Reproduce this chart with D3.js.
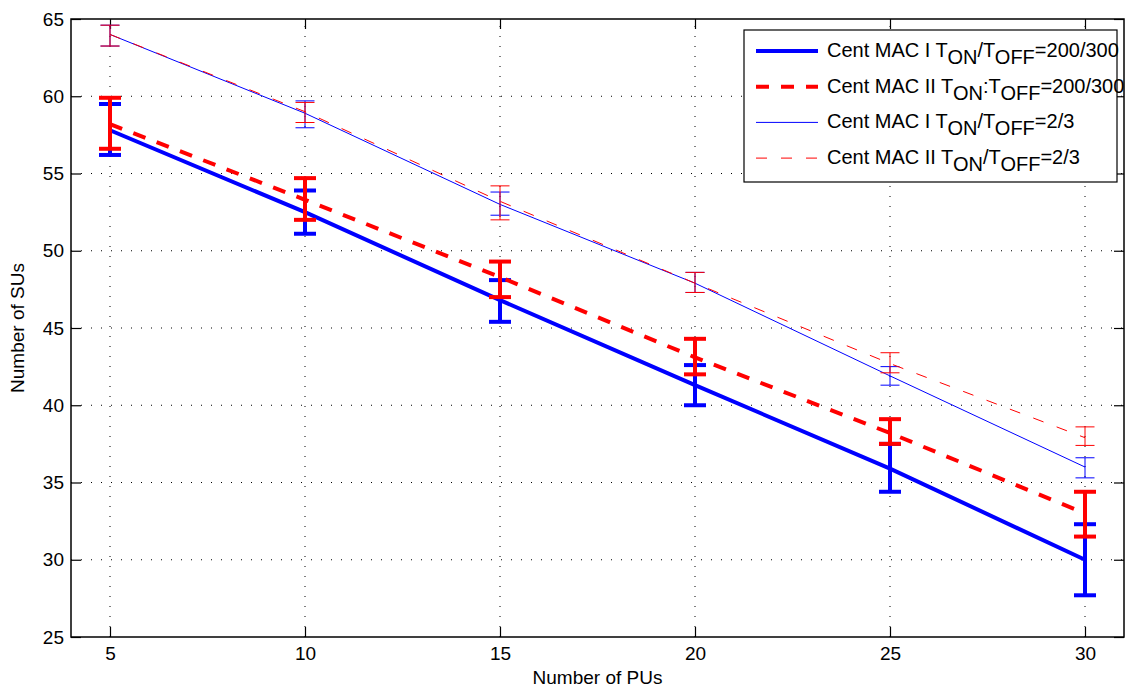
<!DOCTYPE html>
<html>
<script src='https://d3js.org/d3.v7.min.js'></script>
<style>
  body { margin: 0; background: #fff; }
  text { font-family: 'Liberation Sans', Arial, sans-serif; }
  .grid line { stroke: #000; stroke-width: 1; stroke-dasharray: 1,9; }
  .ax path { display: none; }
  .ax line { stroke: #000; stroke-width: 1.2; }
  .ax text { font-size: 19px; fill: #000; }
</style>
<body onload='init()'>
<svg width=1127 height=689></svg>
<script>
// number of primary users (x)
const pus = [5, 10, 15, 20, 25, 30];
const xTicks = [5, 10, 15, 20, 25, 30];
const yTicks = [25, 30, 35, 40, 45, 50, 55, 60, 65];

// Cent MAC I, TON/TOFF=200/300
const macI_a    = [57.8, 52.5, 46.8, 41.3, 35.9, 30.0];
const macI_a_lo = [56.2, 51.1, 45.4, 40.0, 34.4, 27.7];
const macI_a_hi = [59.5, 53.9, 48.1, 42.6, 37.5, 32.3];
// Cent MAC II, TON:TOFF=200/300
const macII_a    = [58.2, 53.3, 48.3, 43.1, 38.2, 33.0];
const macII_a_lo = [56.6, 52.0, 47.0, 42.0, 37.5, 31.5];
const macII_a_hi = [59.9, 54.7, 49.3, 44.3, 39.1, 34.4];
// Cent MAC I, TON/TOFF=2/3
const macI_b    = [64.0, 58.9, 53.0, 47.9, 41.9, 36.0];
const macI_b_lo = [63.25, 57.96, 52.3, 47.3, 41.3, 35.3];
const macI_b_hi = [64.6, 59.7, 53.8, 48.6, 42.5, 36.6];
// Cent MAC II, TON/TOFF=2/3
const macII_b    = [64.0, 59.0, 53.2, 47.9, 42.7, 37.9];
const macII_b_lo = [63.25, 58.3, 52.0, 47.3, 42.1, 37.4];
const macII_b_hi = [64.6, 59.6, 54.2, 48.6, 43.4, 38.6];

function init() {
  var L = 71, R = 1124, T = 19, B = 637;
  var xs = d3.scaleLinear().domain([4, 31]).range([L, R]);
  var ys = d3.scaleLinear().domain([25, 65]).range([B, T]);
  var svg = d3.select('svg');

  // grid
  var grid = svg.append('g').attr('class', 'grid');
  grid.selectAll('.gx').data(xTicks).enter().append('line')
    .attr('x1', d => xs(d)).attr('x2', d => xs(d)).attr('y1', B).attr('y2', T);
  grid.selectAll('.gy').data(yTicks.slice(1, -1)).enter().append('line')
    .attr('y1', d => ys(d)).attr('y2', d => ys(d)).attr('x1', L).attr('x2', R);

  // axes with inward ticks on all four sides
  svg.append('g').attr('class', 'ax').attr('transform', 'translate(0,' + B + ')')
    .call(d3.axisBottom(xs).tickValues(xTicks).tickSizeInner(-10).tickSizeOuter(0).tickPadding(10));
  svg.append('g').attr('class', 'ax').attr('transform', 'translate(' + L + ',0)')
    .call(d3.axisLeft(ys).tickValues(yTicks).tickSizeInner(-10).tickSizeOuter(0).tickPadding(7));
  svg.append('g').attr('class', 'ax').attr('transform', 'translate(0,' + T + ')')
    .call(d3.axisTop(xs).tickValues(xTicks).tickSizeInner(-10).tickSizeOuter(0).tickFormat(''));
  svg.append('g').attr('class', 'ax').attr('transform', 'translate(' + R + ',0)')
    .call(d3.axisRight(ys).tickValues(yTicks).tickSizeInner(-10).tickSizeOuter(0).tickFormat(''));

  var series = [
    {v: macI_a, lo: macI_a_lo, hi: macI_a_hi, c: '#0000ff', w: 4, dash: null, cap: 11},
    {v: macII_a, lo: macII_a_lo, hi: macII_a_hi, c: '#ff0000', w: 4, dash: '13,12', cap: 11},
    {v: macI_b, lo: macI_b_lo, hi: macI_b_hi, c: '#0000ff', w: 1, dash: null, cap: 9.5},
    {v: macII_b, lo: macII_b_lo, hi: macII_b_hi, c: '#ff0000', w: 1, dash: '11,14', cap: 9.5}
  ];

  var line = d3.line().x(d => xs(d[0])).y(d => ys(d[1]));
  series.forEach(function(s) {
    var g = svg.append('g');
    g.append('path')
      .attr('d', line(pus.map((p, i) => [p, s.v[i]])))
      .attr('fill', 'none').attr('stroke', s.c).attr('stroke-width', s.w)
      .attr('stroke-dasharray', s.dash);
    var eb = g.selectAll('g.eb').data(pus).enter().append('g')
      .attr('stroke', s.c).attr('stroke-width', s.w);
    eb.append('line').attr('x1', d => xs(d)).attr('x2', d => xs(d))
      .attr('y1', (d, i) => ys(s.lo[i])).attr('y2', (d, i) => ys(s.hi[i]));
    eb.append('line').attr('x1', d => xs(d) - s.cap).attr('x2', d => xs(d) + s.cap)
      .attr('y1', (d, i) => ys(s.lo[i])).attr('y2', (d, i) => ys(s.lo[i]));
    eb.append('line').attr('x1', d => xs(d) - s.cap).attr('x2', d => xs(d) + s.cap)
      .attr('y1', (d, i) => ys(s.hi[i])).attr('y2', (d, i) => ys(s.hi[i]));
  });

  // frame
  svg.append('rect').attr('x', L).attr('y', T).attr('width', R - L).attr('height', B - T)
    .attr('fill', 'none').attr('stroke', '#000').attr('stroke-width', 1.5);

  // axis labels
  svg.append('text').attr('x', (L + R) / 2).attr('y', 684).attr('text-anchor', 'middle')
    .style('font-size', '19px').text('Number of PUs');
  svg.append('text').attr('transform', 'translate(24,' + ((T + B) / 2) + ') rotate(-90)')
    .attr('text-anchor', 'middle').style('font-size', '19px').text('Number of SUs');

  // legend
  var leg = svg.append('g');
  leg.append('rect').attr('x', 744).attr('y', 30).attr('width', 373).attr('height', 152)
    .attr('fill', '#fff').attr('stroke', '#000').attr('stroke-width', 1.2);
  var items = [
    {sep: '/', val: '200/300'},
    {sep: ':', val: '200/300'},
    {sep: '/', val: '2/3'},
    {sep: '/', val: '2/3'}
  ];
  var names = ['Cent MAC I T', 'Cent MAC II T', 'Cent MAC I T', 'Cent MAC II T'];
  items.forEach(function(it, i) {
    var s = series[i];
    var cy = 51 + i * 35.7;
    leg.append('line').attr('x1', 756).attr('x2', 818).attr('y1', cy).attr('y2', cy)
      .attr('stroke', s.c).attr('stroke-width', s.w).attr('stroke-dasharray', s.dash);
    var t = leg.append('text').attr('x', 827).attr('y', cy + 6).style('font-size', '20px');
    t.append('tspan').text(names[i]);
    t.append('tspan').attr('dy', 7).text('ON');
    t.append('tspan').attr('dy', -7).text(it.sep + 'T');
    t.append('tspan').attr('dy', 7).text('OFF');
    t.append('tspan').attr('dy', -7).text('=' + it.val);
  });
}
</script>
</body>
</html>
